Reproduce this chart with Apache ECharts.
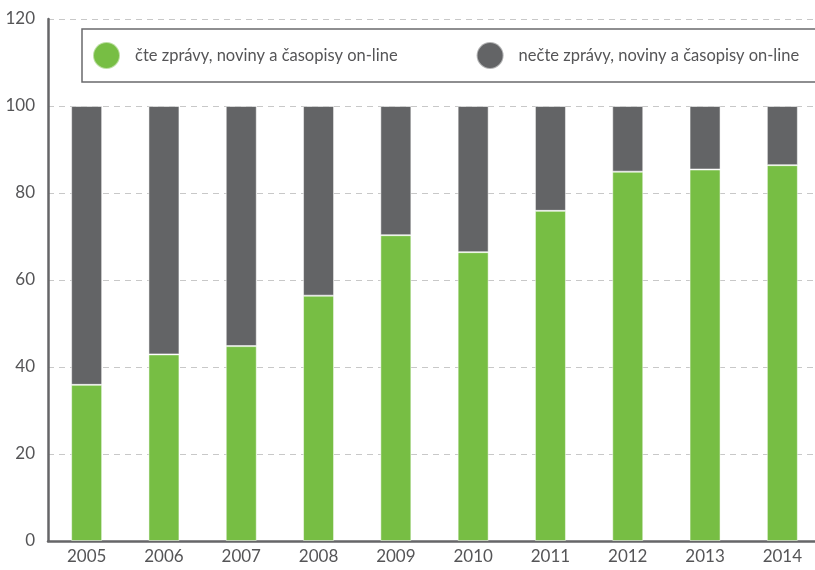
<!DOCTYPE html>
<html>
<head>
<meta charset="utf-8">
<script src="https://cdn.jsdelivr.net/npm/echarts@6/dist/echarts.min.js"></script>
<style>
  html, body { margin: 0; padding: 0; background: #fff; }
  #chart { width: 815px; height: 570px; }
</style>
</head>
<body>
<div id="chart"></div>
<script>
// roky
const years = ['2005', '2006', '2007', '2008', '2009', '2010', '2011', '2012', '2013', '2014']
// čte zprávy on-line (%)
const readOnline = [35.9, 42.9, 44.8, 56.4, 70.3, 66.4, 75.9, 84.9, 85.4, 86.4]
// nečte zprávy on-line (%)
const notReadOnline = [64.1, 57.1, 55.2, 43.6, 29.7, 33.6, 24.1, 15.1, 14.6, 13.6]
const seriesNames = ['čte zprávy, noviny a časopisy on-line', 'nečte zprávy, noviny a časopisy on-line']

const font = 'Lato, "Open Sans", sans-serif'
const textColor = '#555557'

const chart = echarts.init(document.getElementById('chart'))

const option = {
  animation: false,
  textStyle: { fontFamily: font },
  grid: {
    left: 48,
    top: 19,
    bottom: 29,
    width: 773,
    outerBoundsMode: 'none',
    containLabel: false
  },
  legend: {
    left: 82,
    top: 29,
    width: 900,
    padding: [12, 40, 12, 10],
    itemGap: 78,
    itemWidth: 27,
    itemHeight: 27,
    icon: 'circle',
    borderColor: '#6a6a6c',
    borderWidth: 1.5,
    textStyle: {
      fontFamily: font,
      fontSize: 16.5,
      color: textColor,
      padding: [0, 0, 0, 10]
    },
    data: seriesNames
  },
  xAxis: {
    type: 'category',
    data: years,
    axisLine: { lineStyle: { color: '#666668', width: 2.5 } },
    axisTick: { show: false },
    axisLabel: { color: textColor, fontSize: 17, margin: 7 }
  },
  yAxis: {
    type: 'value',
    min: 0,
    max: 120,
    interval: 20,
    axisLine: { show: true, lineStyle: { color: '#666668', width: 2.5 } },
    axisTick: { show: false },
    axisLabel: { color: textColor, fontSize: 17, margin: 13 },
    splitLine: { lineStyle: { color: '#c8c8c8', type: [6, 5], width: 1 } }
  },
  series: [
    {
      name: seriesNames[0],
      type: 'bar',
      stack: 'total',
      barWidth: 31,
      data: readOnline,
      itemStyle: { color: '#77be44', borderColor: 'rgba(255,255,255,0.5)', borderWidth: 1 }
    },
    {
      name: seriesNames[1],
      type: 'bar',
      stack: 'total',
      barWidth: 31,
      data: notReadOnline,
      itemStyle: { color: '#636466', borderColor: 'rgba(255,255,255,0.5)', borderWidth: 1 }
    }
  ]
}

chart.setOption(option)
</script>
</body>
</html>
